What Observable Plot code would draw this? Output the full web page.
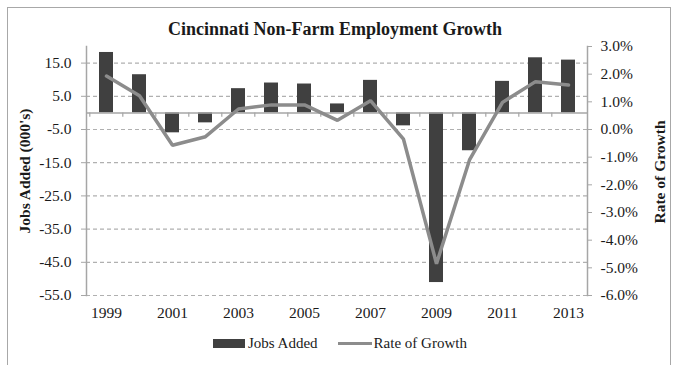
<!DOCTYPE html>
<html><head><meta charset="utf-8">
<script src="https://cdn.jsdelivr.net/npm/d3@7"></script>
<script src="https://cdn.jsdelivr.net/npm/@observablehq/plot@0.6"></script>
<style>
body{margin:0;background:#fff;}
#wrap{position:relative;width:676px;height:365px;overflow:hidden;font-family:"Liberation Serif","Times New Roman",serif;color:#1a1a1a;background:#fff;}
#border{position:absolute;left:7px;top:7px;width:664px;height:420px;border:1.5px solid #a8a8a8;box-sizing:border-box;}
.layer{position:absolute;left:0;top:0;}
#title{position:absolute;left:0;width:670px;top:19px;text-align:center;font-weight:bold;font-size:18px;}
.ytitle{position:absolute;font-weight:bold;font-size:15.5px;white-space:nowrap;transform:translate(-50%,-50%) rotate(-90deg);}
#legend{position:absolute;top:335px;left:213px;display:flex;align-items:center;font-size:15px;white-space:nowrap;}
.sw{display:inline-block;}
</style></head>
<body>
<div id="wrap">
  <div id="border"></div>
  <div id="p1" class="layer"></div>
  <div id="p2" class="layer"></div>
  <div id="title">Cincinnati Non-Farm Employment Growth</div>
  <div class="ytitle" style="left:25px;top:171px;">Jobs Added (000's)</div>
  <div class="ytitle" style="left:660px;top:172px;">Rate of Growth</div>
  <div id="legend">
    <span class="sw" style="width:32px;height:9px;background:#404040;"></span><span style="margin-left:3px;">Jobs Added</span>
    <span class="sw" style="width:34px;height:3.5px;background:#8c8c8c;margin-left:20px;"></span><span style="margin-left:2px;">Rate of Growth</span>
  </div>
</div>
<script>
const years = ["1999","2000","2001","2002","2003","2004","2005","2006","2007","2008","2009","2010","2011","2012","2013"];
const jobsAdded = [18.2, 11.5, -6.0, -3.0, 7.3, 9.0, 8.7, 2.7, 9.8, -3.9, -51.1, -11.4, 9.5, 16.6, 15.9];
const growthRate = [1.93, 1.22, -0.57, -0.26, 0.74, 0.89, 0.89, 0.33, 1.04, -0.35, -4.85, -1.1, 0.98, 1.73, 1.61];
const xTickLabels = ["1999","2001","2003","2005","2007","2009","2011","2013"];
const leftTicks = [-55, -45, -35, -25, -15, -5, 5, 15];
const rightTicks = [-6, -5, -4, -3, -2, -1, 0, 1, 2, 3];

const data = years.map((y, i) => ({year: y, jobs: jobsAdded[i], rate: growthRate[i]}));

const W = 676, H = 365;
const common = {
  width: W, height: H,
  marginLeft: 86, marginRight: 89, marginTop: 46, marginBottom: 70,
  style: {fontFamily: "'Liberation Serif','Times New Roman',serif", fontSize: "15.5px", color: "#1a1a1a", background: "transparent", overflow: "visible"}
};
const xScale = {type: "band", domain: years, paddingInner: 0.58, paddingOuter: 0.29, axis: null};
const axisGrey = "#a6a6a6";

const p1 = Plot.plot({
  ...common,
  x: xScale,
  y: {domain: [-55, 20], axis: null},
  marks: [
    Plot.ruleY(leftTicks, {stroke: "#b0b0b0", strokeWidth: 1.2, strokeDasharray: "4,3", strokeOpacity: 1}),
    Plot.barY(data, {x: "year", y: "jobs", fill: "#404040"}),
    Plot.ruleY([0], {stroke: axisGrey, strokeWidth: 1.5}),
    Plot.ruleX(years, {x: d => d, y1: 0, y2: -1.3, dx: -16.7, stroke: axisGrey, strokeWidth: 1.2}),
    Plot.axisY(leftTicks, {anchor: "left", tickFormat: d => d.toFixed(1), tickSize: 5, tickPadding: 10, stroke: axisGrey, label: null}),
    Plot.axisX(xTickLabels, {anchor: "bottom", tickSize: 0, tickPadding: 11, label: null}),
    Plot.frame({anchor: "left", stroke: axisGrey, strokeWidth: 1.5})
  ]
});
document.getElementById("p1").appendChild(p1);

const p2 = Plot.plot({
  ...common,
  x: xScale,
  y: {domain: [-6, 3], axis: null},
  marks: [
    Plot.line(data, {x: "year", y: "rate", stroke: "#8c8c8c", strokeWidth: 3.5, strokeLinejoin: "miter"}),
    Plot.axisY(rightTicks, {anchor: "right", tickFormat: d => d.toFixed(1) + "%", tickSize: 4, tickPadding: 9, stroke: axisGrey, label: null}),
    Plot.frame({anchor: "right", stroke: axisGrey, strokeWidth: 1.5})
  ]
});
document.getElementById("p2").appendChild(p2);
</script>
</body></html>
